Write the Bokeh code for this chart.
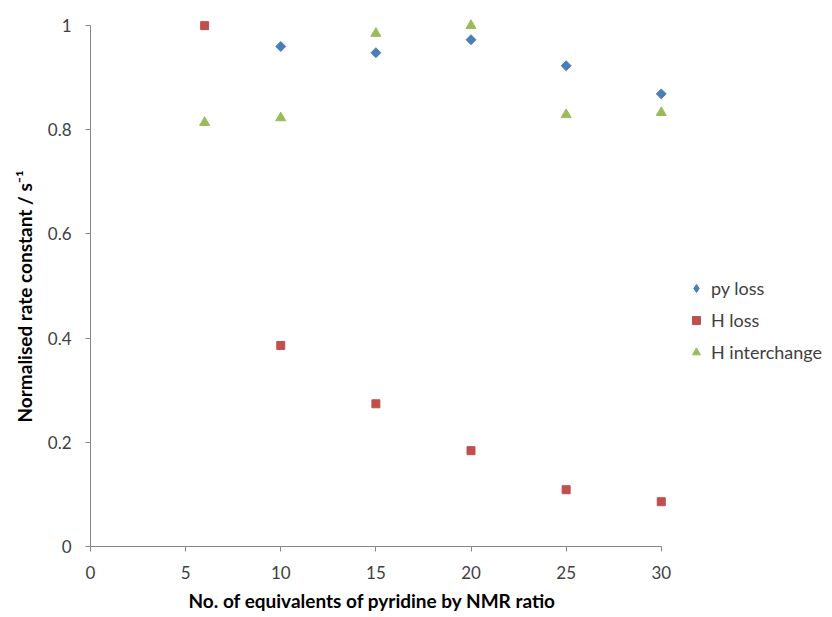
import math
from bokeh.plotting import figure
from bokeh.models import Range1d, FixedTicker, Legend, LegendItem, Title
from bokeh.embed import file_html
from bokeh.resources import INLINE

equiv_py = [10, 15, 20, 25, 30]
py_loss = [0.960, 0.948, 0.973, 0.923, 0.869]

equiv_h = [6, 10, 15, 20, 25, 30]
h_loss = [1.0, 0.386, 0.274, 0.184, 0.109, 0.086]
h_interchange = [0.814, 0.823, 0.985, 1.0, 0.829, 0.833]

x_ticks = [0, 5, 10, 15, 20, 25, 30]
y_ticks = [0, 0.2, 0.4, 0.6, 0.8, 1.0]
y_tick_labels = {0: "0", 0.2: "0.2", 0.4: "0.4", 0.6: "0.6", 0.8: "0.8", 1.0: "1"}

x_title = "No. of equivalents of pyridine by NMR ratio"
y_title = "Normalised rate constant / s\u207b\u00b9"

FONT = "Lato"
AXIS_COLOR = "#868686"
TEXT_COLOR = "#404040"
BLUE, RED, GREEN = "#4A7EBB", "#C0504D", "#9BBB59"

p = figure(width=832, height=617, output_backend="svg", toolbar_location=None,
           x_range=Range1d(0, 39.0), y_range=Range1d(0, 1.031))
p.min_border_left = 90
p.min_border_right = 0
p.min_border_top = 9
p.min_border_bottom = 70
p.outline_line_color = None
p.xgrid.grid_line_color = None
p.ygrid.grid_line_color = None
p.background_fill_color = "white"
p.border_fill_color = "white"

r1 = p.scatter(equiv_py, py_loss, marker="square", angle=math.pi / 4, size=7, color=BLUE)
r2 = p.scatter(equiv_h, h_loss, marker="square", size=8, color=RED)
r3 = p.scatter(equiv_h, h_interchange, marker="triangle", size=10, color=GREEN)
# legend-only glyph for the diamond marker (no visible data point)
r1_leg = p.scatter([float("nan")], [float("nan")], marker="diamond", size=10, color=BLUE)

for ax in (p.xaxis[0], p.yaxis[0]):
    ax.axis_line_color = AXIS_COLOR
    ax.major_tick_line_color = AXIS_COLOR
    ax.major_tick_out = 5
    ax.major_tick_in = 0
    ax.minor_tick_line_color = None
    ax.major_label_text_font = FONT
    ax.major_label_text_font_size = "17px"
    ax.major_label_text_color = TEXT_COLOR

p.xaxis.bounds = (0, 30)
p.yaxis.bounds = (0, 1)
p.xaxis.ticker = FixedTicker(ticks=x_ticks)
p.yaxis.ticker = FixedTicker(ticks=y_ticks)
p.yaxis.major_label_overrides = y_tick_labels
p.xaxis.major_label_standoff = 14
p.yaxis.major_label_standoff = 14

xt = Title(text=x_title, align="left", offset=98, standoff=11,
           text_font=FONT, text_font_size="19px", text_font_style="bold", text_color="#000000")
p.add_layout(xt, "below")
yt = Title(text=y_title, align="left", offset=124, standoff=18,
           text_font=FONT, text_font_size="19px", text_font_style="bold", text_color="#000000")
p.add_layout(yt, "left")

legend = Legend(items=[
    LegendItem(label="py loss", renderers=[r1_leg]),
    LegendItem(label="H loss", renderers=[r2]),
    LegendItem(label="H interchange", renderers=[r3]),
], location=(596, 183))
legend.border_line_color = None
legend.background_fill_alpha = 0
legend.padding = 0
legend.margin = 0
legend.glyph_width = 20
legend.glyph_height = 20
legend.label_height = 20
legend.spacing = 10
legend.label_standoff = 5
legend.label_text_font = FONT
legend.label_text_font_size = "18px"
legend.label_text_color = TEXT_COLOR
p.add_layout(legend)

open("out.html", "w").write(file_html(p, INLINE))
